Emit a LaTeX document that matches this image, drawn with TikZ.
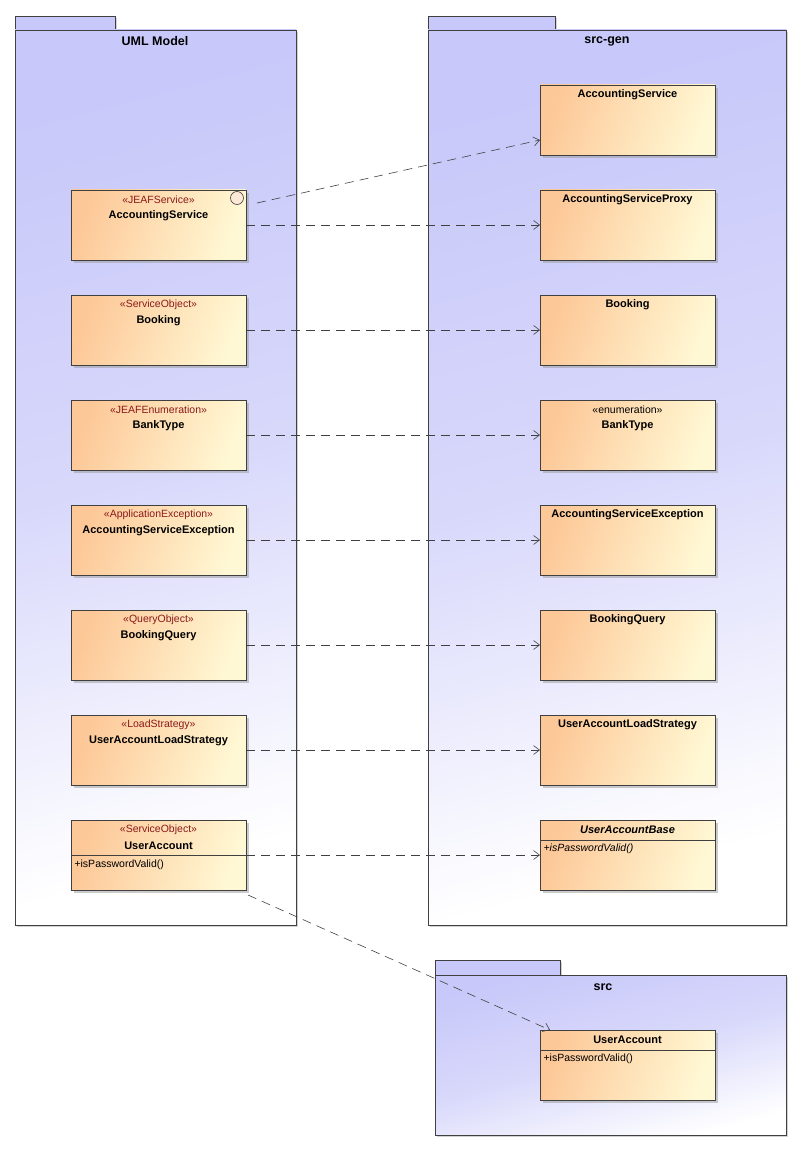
\documentclass[tikz,border=0pt]{standalone}
\usepackage{fontspec}
\setmainfont{Liberation Sans}
\usetikzlibrary{arrows.meta,shadows}
\definecolor{pkgblue}{HTML}{C8C8FA}
\definecolor{clsorange}{HTML}{FDC898}
\definecolor{clsyellow}{HTML}{FFF8D4}
\definecolor{stereored}{HTML}{8B1A1A}
\tikzset{>={Straight Barb[length=6pt,width=9pt]},
  pkg/.style={draw=black!75,line width=0.8pt,top color=pkgblue,bottom color=white,middle color=pkgblue!70!white,shading angle=15,
    drop shadow={shadow xshift=2pt,shadow yshift=-2pt,fill=black!35}},
  pkgtab/.style={draw=black!75,line width=0.8pt,fill=pkgblue,
    drop shadow={shadow xshift=2pt,shadow yshift=-2pt,fill=black!35}},
  cls/.style={draw=black!75,line width=0.8pt,shading=axis,left color=clsorange,right color=clsyellow,shading angle=70,
    drop shadow={shadow xshift=3pt,shadow yshift=-3pt,fill=black!40}},
  stereo/.style={font=\fontsize{10.5}{12}\selectfont,text=stereored},
  cname/.style={font=\fontsize{11}{12}\selectfont\bfseries},
  member/.style={font=\fontsize{10.5}{12}\selectfont,anchor=west},
  ptitle/.style={font=\fontsize{12.5}{14}\selectfont\bfseries},
  dep/.style={dashed,dash pattern=on 9pt off 6pt,draw=black!75,line width=0.6pt,->}}
\begin{document}
\begin{tikzpicture}[x=1pt,y=-1pt]
  \useasboundingbox (0,0) rectangle (800,1150);
  % packages
  \path[pkgtab] (15,16) rectangle (115,30);
  \path[pkg] (15,30) rectangle (296,925);
  \node[ptitle] (umlmodel) at (155,41) {UML Model};
  \path[pkgtab] (428,16) rectangle (555,30);
  \path[pkg] (428,30) rectangle (786,925);
  \node[ptitle] (srcgen) at (607,41) {src-gen};
  \path[pkgtab] (435,960) rectangle (560,975);
  \path[pkg] (435,975) rectangle (786,1135);
  \node[ptitle] (src) at (603,987) {src};
  % model classes
  \foreach \n/\y/\st/\nm in {m1/190/JEAFService/AccountingService,
      m2/295/ServiceObject/Booking,
      m3/400/JEAFEnumeration/BankType,
      m4/505/ApplicationException/AccountingServiceException,
      m5/610/QueryObject/BookingQuery,
      m6/715/LoadStrategy/UserAccountLoadStrategy,
      m7/820/ServiceObject/UserAccount} {
    \path[cls] (71,\y) rectangle (246,\y+70);
    \coordinate (\n) at (246,\y+35);
    \node[stereo] at (158.5,\y+10) {«\st»};
    \node[cname] at (158.5,\y+26) {\nm};
  }
  \draw[black!75,line width=0.8pt] (71,855) -- (246,855);
  \node[member] (m7op) at (71,865) {+isPasswordValid()};
  \draw[black!75,line width=0.6pt,fill=clsorange!40] (237,198) circle (6.5);
  \coordinate (m0) at (257,203);
  \coordinate (m8) at (248,895);
  % generated classes
  \foreach \n/\y/\dy/\nm in {g0/85/10/AccountingService,
      g1/190/10/AccountingServiceProxy,
      g2/295/10/Booking,
      g3/400/26/BankType,
      g4/505/10/AccountingServiceException,
      g5/610/10/BookingQuery,
      g6/715/10/UserAccountLoadStrategy} {
    \path[cls] (540,\y) rectangle (715,\y+70);
    \node[cname] at (627.5,\y+\dy) {\nm};
  }
  \node[stereo,text=black] at (627.5,410) {«enumeration»};
  \path[cls] (540,820) rectangle (715,890);
  \node[cname,font=\fontsize{11}{12}\selectfont\bfseries\itshape] at (627.5,830) {UserAccountBase};
  \draw[black!75,line width=0.8pt] (540,840) -- (715,840);
  \node[member,font=\fontsize{10.5}{12}\selectfont\itshape] at (540,849) {+isPasswordValid()};
  \path[cls] (540,1030) rectangle (715,1100);
  \node[cname] at (627.5,1040) {UserAccount};
  \draw[black!75,line width=0.8pt] (540,1050) -- (715,1050);
  \node[member] at (540,1059) {+isPasswordValid()};
  \coordinate (g0in) at (540,140);
  \coordinate (s7) at (550,1030);
  % dependencies
  \draw[dep] (m0) -- (g0in);
  \draw[dep] (m1) -- (540,225);
  \draw[dep] (m2) -- (540,330);
  \draw[dep] (m3) -- (540,435);
  \draw[dep] (m4) -- (540,540);
  \draw[dep] (m5) -- (540,645);
  \draw[dep] (m6) -- (540,750);
  \draw[dep] (m7) -- (540,855);
  \draw[dep] (m8) -- (s7);
\end{tikzpicture}
\end{document}
